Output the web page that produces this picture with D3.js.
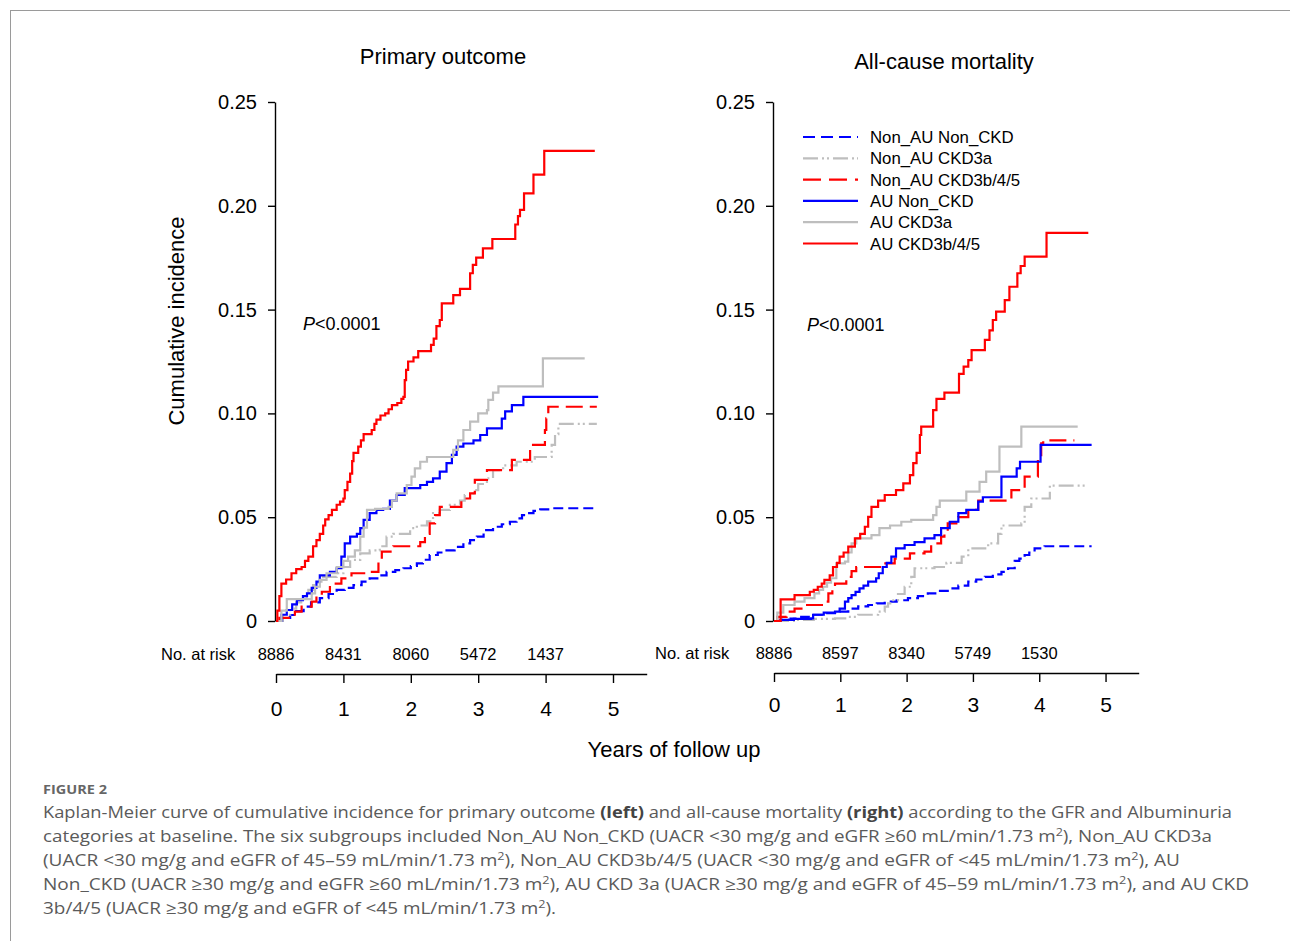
<!DOCTYPE html>
<html>
<head>
<meta charset="utf-8">
<script src="https://cdn.jsdelivr.net/npm/d3@7"></script>
<style>
  html, body { margin: 0; padding: 0; background: #fff; }
  svg { display: block; }
</style>
</head>
<body>
<svg id="chart" width="1290" height="941"></svg>
<script>
// ---------------- DATA ----------------
const groups = ["Non_AU Non_CKD", "Non_AU CKD3a", "Non_AU CKD3b/4/5", "AU Non_CKD", "AU CKD3a", "AU CKD3b/4/5"];
const yTicks = [0, 0.05, 0.10, 0.15, 0.20, 0.25];
const yTickLabels = ["0", "0.05", "0.10", "0.15", "0.20", "0.25"];
const xTicks = [0, 1, 2, 3, 4, 5];
const riskTimes = [0, 1, 2, 3, 4];
const riskPrimary = [8886, 8431, 8060, 5472, 1437];
const riskMortality = [8886, 8597, 8340, 5749, 1530];
const panelTitles = ["Primary outcome", "All-cause mortality"];

// Primary outcome curves: [years, cumulative incidence]
const poNonAUNonCKD = [[0,0],[0.1,0.0015],[0.21,0.0029],[0.3,0.0048],[0.41,0.0069],[0.52,0.009],[0.65,0.011],[0.78,0.013],[0.9,0.015],[1.02,0.016],[1.15,0.0173],[1.27,0.019],[1.39,0.0205],[1.52,0.022],[1.64,0.0237],[1.77,0.0245],[1.89,0.0254],[2.0,0.0265],[2.09,0.0278],[2.18,0.0295],[2.28,0.0318],[2.4,0.033],[2.53,0.034],[2.65,0.0357],[2.78,0.0374],[2.88,0.039],[2.98,0.0406],[3.08,0.0438],[3.22,0.0454],[3.35,0.0466],[3.47,0.0478],[3.57,0.0494],[3.65,0.051],[3.72,0.052],[3.82,0.053],[3.92,0.0538],[4.07,0.0543],[4.73,0.0543]];
const poNonAUCKD3a = [[0,0],[0.1,0.003],[0.21,0.006],[0.3,0.009],[0.41,0.0117],[0.48,0.015],[0.55,0.0173],[0.62,0.019],[0.70,0.0213],[0.9,0.023],[1.0,0.026],[1.10,0.0294],[1.25,0.0326],[1.39,0.034],[1.54,0.036],[1.64,0.0406],[1.74,0.042],[1.99,0.0447],[2.09,0.046],[2.24,0.048],[2.33,0.052],[2.43,0.0535],[2.58,0.056],[2.73,0.058],[2.80,0.0607],[2.93,0.063],[3.0,0.066],[3.13,0.0687],[3.22,0.0727],[3.37,0.075],[3.57,0.0767],[3.84,0.079],[4.09,0.0848],[4.14,0.090],[4.19,0.095],[4.76,0.095]];
const poNonAUCKD3b = [[0,0],[0.05,0.0015],[0.28,0.0045],[0.38,0.0069],[0.53,0.0093],[0.6,0.012],[0.68,0.0141],[0.8,0.018],[0.97,0.0205],[1.12,0.023],[1.35,0.0237],[1.52,0.029],[1.57,0.0334],[1.74,0.036],[2.14,0.038],[2.21,0.042],[2.28,0.047],[2.36,0.051],[2.43,0.055],[2.75,0.059],[2.88,0.0615],[2.95,0.068],[3.13,0.0727],[3.50,0.0776],[3.77,0.0848],[3.99,0.092],[4.01,0.0976],[4.04,0.1032],[4.76,0.1032]];
const poAUNonCKD = [[0,0],[0.08,0.003],[0.16,0.0053],[0.24,0.008],[0.31,0.010],[0.4,0.012],[0.46,0.0133],[0.53,0.016],[0.6,0.019],[0.65,0.022],[0.8,0.0237],[0.9,0.0254],[0.97,0.031],[1.02,0.0374],[1.10,0.0406],[1.2,0.042],[1.25,0.0447],[1.30,0.0487],[1.39,0.052],[1.49,0.0535],[1.59,0.054],[1.69,0.058],[1.79,0.0607],[1.91,0.064],[2.14,0.0655],[2.24,0.067],[2.33,0.0687],[2.43,0.072],[2.53,0.076],[2.61,0.080],[2.68,0.084],[2.78,0.0855],[2.93,0.087],[3.03,0.0896],[3.13,0.0928],[3.35,0.0975],[3.40,0.101],[3.50,0.104],[3.67,0.108],[4.78,0.108]];
const poAUCKD3a = [[0,0],[0.08,0.005],[0.16,0.0105],[0.5,0.0105],[0.53,0.0133],[0.58,0.0165],[0.65,0.0198],[0.75,0.023],[0.9,0.026],[1.0,0.029],[1.07,0.031],[1.17,0.034],[1.25,0.0406],[1.30,0.045],[1.35,0.0535],[1.47,0.054],[1.67,0.055],[1.72,0.058],[1.79,0.0615],[1.94,0.0655],[2.01,0.0695],[2.06,0.0735],[2.14,0.0767],[2.24,0.079],[2.63,0.0824],[2.70,0.087],[2.78,0.092],[2.88,0.096],[3.0,0.100],[3.13,0.1016],[3.15,0.1065],[3.22,0.110],[3.30,0.113],[3.96,0.1265],[4.58,0.1265]];
const poAUCKD3b = [[0,0],[0.02,0.005],[0.05,0.012],[0.08,0.018],[0.15,0.02],[0.23,0.023],[0.3,0.025],[0.38,0.026],[0.43,0.029],[0.48,0.031],[0.55,0.036],[0.6,0.039],[0.65,0.042],[0.7,0.046],[0.73,0.049],[0.78,0.051],[0.83,0.0535],[0.9,0.056],[0.95,0.0575],[1.0,0.059],[1.02,0.063],[1.06,0.067],[1.10,0.071],[1.13,0.077],[1.15,0.081],[1.22,0.084],[1.26,0.087],[1.30,0.090],[1.42,0.092],[1.46,0.095],[1.49,0.097],[1.55,0.099],[1.62,0.100],[1.67,0.102],[1.72,0.104],[1.80,0.105],[1.86,0.107],[1.89,0.108],[1.91,0.116],[1.93,0.121],[1.96,0.125],[2.04,0.127],[2.11,0.130],[2.30,0.133],[2.34,0.136],[2.38,0.142],[2.43,0.145],[2.46,0.153],[2.63,0.157],[2.73,0.160],[2.88,0.1675],[2.92,0.1715],[2.97,0.175],[3.07,0.1795],[3.21,0.184],[3.55,0.191],[3.59,0.195],[3.62,0.198],[3.68,0.206],[3.82,0.215],[3.98,0.2265],[4.73,0.2265]];

// All-cause mortality curves
const mNonAUNonCKD = [[0,0],[0.1,0.0005],[0.25,0.0012],[0.41,0.002],[0.6,0.003],[0.75,0.0038],[0.92,0.0045],[1.12,0.006],[1.27,0.007],[1.42,0.0077],[1.55,0.0085],[1.67,0.0093],[1.85,0.010],[2.02,0.011],[2.17,0.012],[2.32,0.0133],[2.47,0.0145],[2.62,0.0157],[2.78,0.017],[2.93,0.019],[3.05,0.020],[3.18,0.0213],[3.3,0.0225],[3.43,0.0237],[3.53,0.0254],[3.63,0.029],[3.70,0.030],[3.78,0.0318],[3.85,0.033],[3.93,0.035],[4.08,0.036],[4.79,0.036]];
const mNonAUCKD3a = [[0,0],[0.3,0.0005],[0.6,0.001],[0.92,0.0013],[1.1,0.002],[1.27,0.003],[1.57,0.0045],[1.67,0.0069],[1.72,0.0085],[1.77,0.010],[1.87,0.013],[1.97,0.0165],[2.07,0.0213],[2.12,0.0254],[2.42,0.026],[2.60,0.028],[2.83,0.031],[2.93,0.035],[3.23,0.0374],[3.38,0.042],[3.43,0.046],[3.73,0.047],[3.78,0.055],[3.88,0.059],[4.16,0.0652],[4.74,0.0652]];
const mNonAUCKD3b = [[0,0],[0.05,0.002],[0.19,0.0045],[0.31,0.006],[0.45,0.0077],[0.76,0.0093],[0.82,0.0133],[0.88,0.016],[0.92,0.018],[1.09,0.0213],[1.17,0.024],[1.24,0.026],[1.62,0.0278],[1.82,0.030],[2.05,0.0326],[2.27,0.0334],[2.37,0.0374],[2.52,0.0406],[2.57,0.044],[2.62,0.047],[2.78,0.050],[2.93,0.0535],[3.08,0.058],[3.58,0.063],[3.78,0.0695],[3.98,0.0776],[4.03,0.0856],[4.06,0.087],[4.53,0.087]];
const mAUNonCKD = [[0,0],[0.1,0.0005],[0.3,0.001],[0.56,0.0013],[0.59,0.003],[0.75,0.004],[0.92,0.0045],[0.99,0.006],[1.07,0.0093],[1.12,0.011],[1.17,0.0125],[1.23,0.014],[1.29,0.0157],[1.35,0.017],[1.42,0.019],[1.54,0.0206],[1.58,0.023],[1.64,0.026],[1.70,0.028],[1.77,0.031],[1.84,0.035],[1.97,0.0366],[2.12,0.038],[2.27,0.0398],[2.42,0.0414],[2.52,0.0447],[2.65,0.0478],[2.78,0.052],[2.90,0.0535],[3.08,0.0575],[3.15,0.0596],[3.43,0.0695],[3.66,0.0735],[3.71,0.0767],[4.02,0.0848],[4.79,0.0848]];
const mAUCKD3a = [[0,0],[0.05,0.004],[0.14,0.0077],[0.31,0.0093],[0.46,0.011],[0.61,0.0133],[0.68,0.015],[0.74,0.0165],[0.80,0.0185],[0.86,0.0206],[0.94,0.0278],[1.07,0.0286],[1.12,0.033],[1.17,0.0374],[1.24,0.0398],[1.47,0.0414],[1.59,0.0447],[1.75,0.046],[1.92,0.0478],[2.07,0.0487],[2.40,0.051],[2.45,0.055],[2.50,0.058],[2.90,0.0623],[3.10,0.067],[3.20,0.072],[3.40,0.084],[3.73,0.0936],[4.58,0.0936]];
const mAUCKD3b = [[0,0],[0.1,0.0104],[0.31,0.0125],[0.54,0.0141],[0.60,0.015],[0.66,0.0165],[0.72,0.018],[0.76,0.0198],[0.84,0.022],[0.89,0.026],[0.95,0.028],[0.99,0.031],[1.05,0.033],[1.12,0.0358],[1.22,0.0398],[1.30,0.042],[1.37,0.0454],[1.42,0.0502],[1.47,0.055],[1.57,0.058],[1.67,0.0607],[1.84,0.063],[1.95,0.0663],[2.05,0.0703],[2.10,0.076],[2.15,0.081],[2.20,0.0896],[2.22,0.0936],[2.40,0.1016],[2.45,0.107],[2.57,0.110],[2.79,0.119],[2.86,0.1225],[2.93,0.1257],[2.98,0.1305],[3.18,0.1354],[3.25,0.140],[3.30,0.145],[3.35,0.149],[3.48,0.1546],[3.55,0.161],[3.67,0.1675],[3.72,0.171],[3.78,0.1755],[4.11,0.187],[4.74,0.187]];

// ---------------- STYLE ----------------
const groupColors = ["#0000FF", "#BEBEBE", "#FF0000", "#0000FF", "#BEBEBE", "#FF0000"];
const groupDash = ["10,5", "15,4,2,3,2,4", "17,7", null, null, null];
const legendDash = ["12,6", "15,4,2,3,2,4", "18,8", null, null, null];
const FONT = "'Liberation Sans', Arial, Helvetica, sans-serif";

const svg = d3.select("#chart");

// frame
svg.append("line").attr("x1", 10).attr("y1", 10.5).attr("x2", 1290).attr("y2", 10.5).attr("stroke", "#9a9a9a").attr("stroke-width", 1);
svg.append("line").attr("x1", 10.5).attr("y1", 10).attr("x2", 10.5).attr("y2", 941).attr("stroke", "#9a9a9a").attr("stroke-width", 1);

const y = d3.scaleLinear().domain([0, 0.25]).range([621, 102]);

const panels = [
  { title: panelTitles[0], titleX: 443, titleY: 64, x: d3.scaleLinear().domain([0, 5.5]).range([276, 646.7]),
    yAxisX: 275, curves: [poNonAUNonCKD, poNonAUCKD3a, poNonAUCKD3b, poAUNonCKD, poAUCKD3a, poAUCKD3b],
    risk: riskPrimary, riskY: 660, riskLabelX: 161, xAxisY: 674, tickPad: 18, pX: 303, pY: 329.5, legend: false },
  { title: panelTitles[1], titleX: 944, titleY: 69, x: d3.scaleLinear().domain([0, 5.5]).range([774, 1138.7]),
    yAxisX: 773, curves: [mNonAUNonCKD, mNonAUCKD3a, mNonAUCKD3b, mAUNonCKD, mAUCKD3a, mAUCKD3b],
    risk: riskMortality, riskY: 658.5, riskLabelX: 655, xAxisY: 673, tickPad: 15, pX: 807, pY: 331, legend: true }
];

panels.forEach(p => {
  const g = svg.append("g");

  // title
  g.append("text").attr("x", p.titleX).attr("y", p.titleY).attr("text-anchor", "middle")
    .attr("font-family", FONT).attr("font-size", 22).attr("fill", "#000").text(p.title);

  // y axis
  const yAxis = d3.axisLeft(y).tickValues(yTicks).tickFormat((d, i) => yTickLabels[i])
    .tickSize(7).tickSizeOuter(0).tickPadding(11);
  const ya = g.append("g").attr("transform", `translate(${p.yAxisX},0)`).call(yAxis);
  ya.selectAll("path, line").attr("stroke", "#000").attr("stroke-width", 1.4);
  ya.selectAll("text").attr("font-family", FONT).attr("font-size", 20).attr("fill", "#000");

  // x axis (separate, below the at-risk row)
  const xAxis = d3.axisBottom(p.x).tickValues(xTicks).tickFormat(d3.format("d"))
    .tickSize(9).tickSizeOuter(0).tickPadding(p.tickPad);
  const xa = g.append("g").attr("transform", `translate(0,${p.xAxisY})`).call(xAxis);
  xa.selectAll("path, line").attr("stroke", "#000").attr("stroke-width", 1.4);
  xa.selectAll("text").attr("font-family", FONT).attr("font-size", 21).attr("fill", "#000");

  // number at risk
  g.append("text").attr("x", p.riskLabelX).attr("y", p.riskY).attr("font-family", FONT)
    .attr("font-size", 16.5).attr("fill", "#000").text("No. at risk");
  g.selectAll(".risk").data(p.risk).enter().append("text")
    .attr("x", (d, i) => p.x(riskTimes[i])).attr("y", p.riskY).attr("text-anchor", "middle")
    .attr("font-family", FONT).attr("font-size", 16.5).attr("fill", "#000").text(d => d);

  // curves
  const line = d3.line().x(d => p.x(d[0])).y(d => y(d[1])).curve(d3.curveStepAfter);
  p.curves.forEach((c, i) => {
    g.append("path").attr("d", line(c)).attr("fill", "none")
      .attr("stroke", groupColors[i]).attr("stroke-width", 2.2)
      .attr("stroke-dasharray", groupDash[i]);
  });

  // P value
  const pt = g.append("text").attr("x", p.pX).attr("y", p.pY).attr("font-family", FONT)
    .attr("font-size", 18).attr("fill", "#000");
  pt.append("tspan").attr("font-style", "italic").text("P");
  pt.append("tspan").text("<0.0001");

  // legend
  if (p.legend) {
    const lg = g.append("g");
    groups.forEach((name, i) => {
      const ly = 137 + i * 21.3;
      lg.append("line").attr("x1", 803).attr("x2", 858).attr("y1", ly).attr("y2", ly)
        .attr("stroke", groupColors[i]).attr("stroke-width", 2.2).attr("stroke-dasharray", legendDash[i]);
      lg.append("text").attr("x", 870).attr("y", ly + 6).attr("font-family", FONT)
        .attr("font-size", 16.8).attr("fill", "#000").text(name);
    });
  }
});

// shared axis labels
svg.append("text").attr("transform", "translate(184,321) rotate(-90)").attr("text-anchor", "middle")
  .attr("font-family", FONT).attr("font-size", 22).attr("fill", "#000").text("Cumulative incidence");
svg.append("text").attr("x", 674).attr("y", 757).attr("text-anchor", "middle")
  .attr("font-family", FONT).attr("font-size", 22).attr("fill", "#000").text("Years of follow up");

// ---------------- CAPTION ----------------
const CAP_FONT = "'Open Sans', 'Noto Sans', sans-serif";
const capColor = "#5a5a5a";
svg.append("text").attr("x", 43).attr("y", 794).attr("font-family", CAP_FONT).attr("font-weight", 700)
  .attr("font-size", 12.5).attr("fill", "#666").attr("textLength", 64).attr("lengthAdjust", "spacingAndGlyphs")
  .text("FIGURE 2");

// each caption line: list of [text, kind] where kind: n normal, b bold, s superscript
const capLines = [
  { y: 818, w: 1189, parts: [["Kaplan-Meier curve of cumulative incidence for primary outcome ", "n"], ["(left)", "b"], [" and all-cause mortality ", "n"], ["(right)", "b"], [" according to the GFR and Albuminuria", "n"]] },
  { y: 842, w: 1169, parts: [["categories at baseline. The six subgroups included Non_AU Non_CKD (UACR <30 mg/g and eGFR \u226560 mL/min/1.73 m", "n"], ["2", "s"], ["), Non_AU CKD3a", "n"]] },
  { y: 866, w: 1137, parts: [["(UACR <30 mg/g and eGFR of 45\u201359 mL/min/1.73 m", "n"], ["2", "s"], ["), Non_AU CKD3b/4/5 (UACR <30 mg/g and eGFR of <45 mL/min/1.73 m", "n"], ["2", "s"], ["), AU", "n"]] },
  { y: 890, w: 1206, parts: [["Non_CKD (UACR \u226530 mg/g and eGFR \u226560 mL/min/1.73 m", "n"], ["2", "s"], ["), AU CKD 3a (UACR \u226530 mg/g and eGFR of 45\u201359 mL/min/1.73 m", "n"], ["2", "s"], ["), and AU CKD", "n"]] },
  { y: 914, w: 513, parts: [["3b/4/5 (UACR \u226530 mg/g and eGFR of <45 mL/min/1.73 m", "n"], ["2", "s"], [").", "n"]] }
];
capLines.forEach(l => {
  const t = svg.append("text").attr("x", 43).attr("y", l.y).attr("font-family", CAP_FONT)
    .attr("font-size", 16.5).attr("fill", capColor).attr("textLength", l.w).attr("lengthAdjust", "spacingAndGlyphs");
  let shifted = false;
  l.parts.forEach(([s, k]) => {
    const ts = t.append("tspan").text(s);
    if (k === "b") ts.attr("font-weight", 700).attr("fill", "#444");
    if (k === "s") { ts.attr("font-size", 11).attr("dy", -6); shifted = true; }
    else if (shifted) { ts.attr("dy", 6); shifted = false; }
  });
});
</script>
</body>
</html>
